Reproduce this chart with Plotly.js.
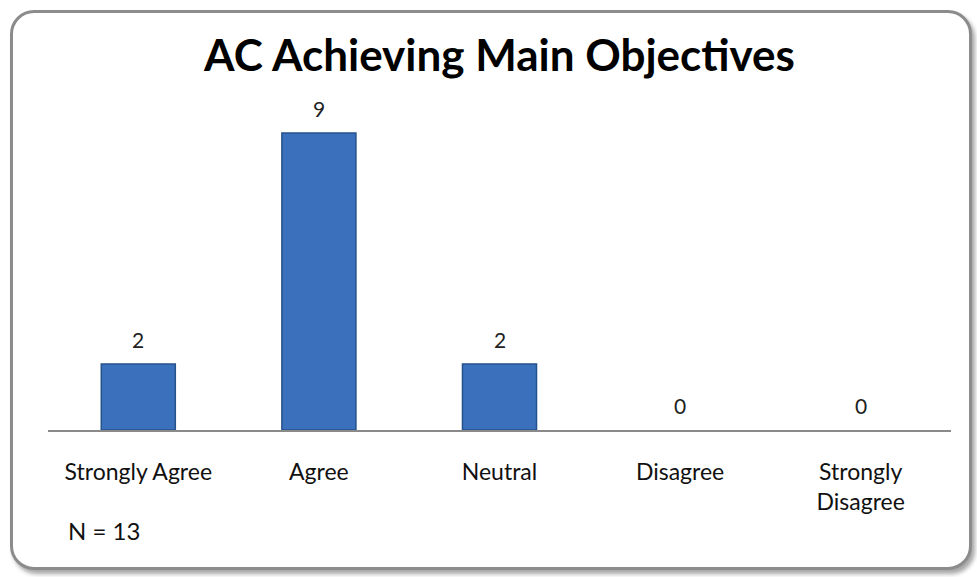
<!DOCTYPE html>
<html>
<head>
<meta charset="utf-8">
<script src="https://cdn.plot.ly/plotly-3.0.1.min.js"></script>
<style>
  html, body { margin: 0; padding: 0; background: #ffffff; }
  #wrap { position: relative; width: 977px; height: 577px; }
  #frame {
    position: absolute; left: 10px; top: 10px; width: 956px; height: 554px;
    border: 3px solid #8c8c8c; border-radius: 24px;
    box-shadow: 3px 4px 4px rgba(0,0,0,0.35);
    background: #ffffff;
  }
  #chart { position: absolute; left: 0; top: 0; width: 977px; height: 577px; }
</style>
</head>
<body>
<div id="wrap">
  <div id="frame"></div>
  <div id="chart"></div>
</div>
<script>
const categories = ["Strongly Agree", "Agree", "Neutral", "Disagree", "Strongly Disagree"];
const tickLabels = ["Strongly Agree", "Agree", "Neutral", "Disagree", "Strongly<br>Disagree"];
const counts = [2, 9, 2, 0, 0];
const chartTitle = "AC Achieving Main Objectives";
const noteText = "N = 13";

const FONT = "Lato, 'Open Sans', sans-serif";

const trace = {
  type: "bar",
  x: categories,
  y: counts,
  cliponaxis: false,
  marker: {
    color: "#3b71bc",
    line: { color: "#25528b", width: counts.map(v => v > 0 ? 1.5 : 0) }
  },
  width: 0.41,
  hoverinfo: "skip"
};

const valueLabels = categories.map((c, i) => ({
  x: c, y: counts[i], xref: "x", yref: "y",
  text: String(counts[i]), showarrow: false,
  yanchor: "middle", yshift: 25,
  font: { family: FONT, size: 21, color: "#222222" }
}));

const layout = {
  width: 977, height: 577,
  paper_bgcolor: "rgba(0,0,0,0)",
  plot_bgcolor: "rgba(0,0,0,0)",
  margin: { l: 48, r: 26, t: 100, b: 147 },
  showlegend: false,
  title: {
    text: "<b>" + chartTitle + "</b>",
    font: { family: FONT, size: 44, color: "#000000" },
    xref: "paper", x: 0.5, xanchor: "center", y: 0.903, yanchor: "middle"
  },
  xaxis: {
    type: "category",
    tickvals: categories,
    ticktext: tickLabels,
    showline: true, linecolor: "#8a8a8a", linewidth: 2,
    ticks: "", showgrid: false, zeroline: false,
    ticklabelstandoff: 20,
    tickfont: { family: FONT, size: 23, color: "#111111" },
    fixedrange: true
  },
  yaxis: {
    range: [0, 10],
    visible: false,
    showgrid: false, zeroline: false,
    fixedrange: true
  },
  annotations: valueLabels.concat([{
    text: noteText, xref: "paper", yref: "paper",
    x: 0.02, y: -0.306, xanchor: "left", yanchor: "middle",
    showarrow: false,
    font: { family: FONT, size: 24, color: "#111111" }
  }])
};

Plotly.newPlot("chart", [trace], layout, { displayModeBar: false, staticPlot: true });
</script>
</body>
</html>
